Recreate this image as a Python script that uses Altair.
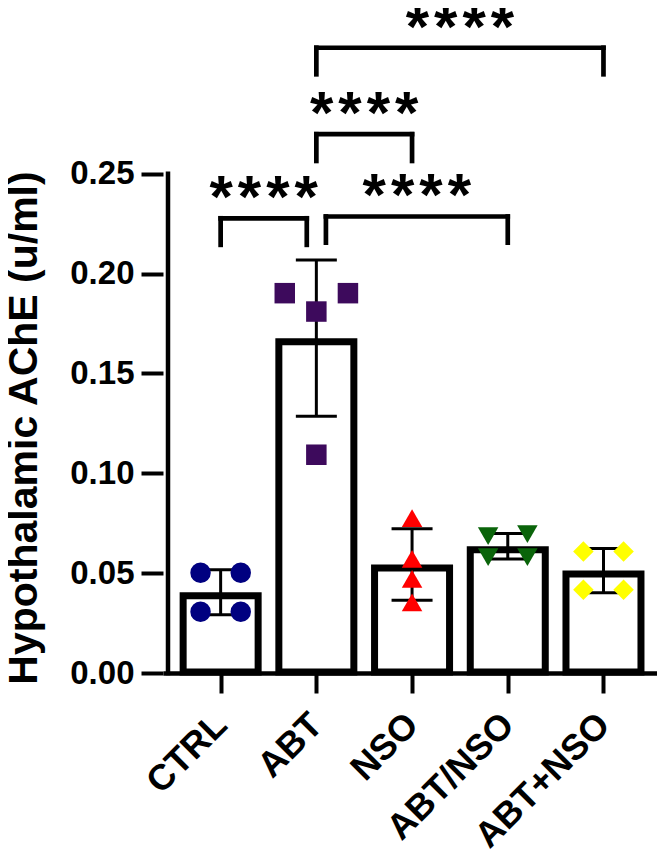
import json
import altair as alt
import pandas as pd

# ---------------- data ----------------
groups = ["CTRL", "ABT", "NSO", "ABT/NSO", "ABT+NSO"]
colors = ["#000080", "#3d0a5c", "#ff0000", "#0a640a", "#ffff00"]
shapes = ["circle", "square", "triangle-up", "triangle-down", "diamond"]

ctrl_values = [0.0502, 0.0502, 0.0307, 0.0307]
abt_values = [0.1902, 0.1810, 0.1902, 0.1093]
nso_values = [0.0776, 0.0571, 0.0471, 0.0354]
abt_slash_nso_values = [0.0685, 0.0695, 0.0580, 0.0580]
abt_plus_nso_values = [0.0609, 0.0609, 0.0417, 0.0417]
group_values = [ctrl_values, abt_values, nso_values,
                abt_slash_nso_values, abt_plus_nso_values]

# column arrangement of the dots inside each bar (-1 left, 0 middle, 1 right)
point_slots = [[-1, 1, -1, 1], [-1, 0, 1, 0], [0, 0, 0, 0],
               [-1, 1, -1, 1], [-1, 1, -1, 1]]

y_ticks = [0.00, 0.05, 0.10, 0.15, 0.20, 0.25]
y_title = "Hypothalamic AChE (u/ml)"

# significance brackets
sig_from = [1, 1, 0, 1]
sig_to = [4, 2, 1, 3]
sig_from_nudge = [0.0, 0.0, 0.0, 0.1]
sig_to_nudge = [0.0, 0.0, -0.1, 0.0]
sig_y = [0.3131, 0.2698, 0.2277, 0.2286]
sig_leg_end = [0.2998, 0.2564, 0.2144, 0.2155]
sig_text = ["*\u200a*\u200a*\u200a*"] * 4

# ---------------- styling ----------------
FONT = "Liberation Sans"
point_spread = [0.21, 0.33, 0.0, 0.205, 0.21]
x_domain = [-0.55, 4.507]
y_domain = [0, 0.333]

rows = []
for gi, (vals, sl) in enumerate(zip(group_values, point_slots)):
    for v, s in zip(vals, sl):
        rows.append({"g": gi, "group": groups[gi], "value": v, "slot": s})
df = pd.DataFrame(rows)

sig_df = pd.DataFrame({
    "a": [f + n for f, n in zip(sig_from, sig_from_nudge)],
    "b": [t + n for t, n in zip(sig_to, sig_to_nudge)],
    "y": sig_y,
    "leg": sig_leg_end,
    "label": sig_text,
})
sig_df["mid"] = (sig_df["a"] + sig_df["b"]) / 2

axis_df = pd.DataFrame({"x": [x_domain[0]], "y0": [0.0], "y1": [max(y_ticks)]})

xs = alt.Scale(domain=x_domain, nice=False, zero=False)
ys = alt.Scale(domain=y_domain, nice=False, zero=False)

x_axis = alt.Axis(
    values=list(range(len(groups))),
    labelExpr=f"{json.dumps(groups)}[datum.value]",
    title="", grid=False, labelAngle=-45, labelFont=FONT,
    labelFontSize=36, labelFontWeight="bold", labelColor="black",
    labelPadding=14, labelOffset=-12, tickSize=20, tickWidth=4,
    tickColor="black", domainWidth=4.5, domainColor="black",
    labelOverlap=False, labelBound=False, labelFlush=False,
)
y_axis = alt.Axis(
    values=y_ticks, format=".2f", grid=False, domain=False,
    labelFont=FONT, labelFontSize=33, labelFontWeight="bold",
    labelColor="black", labelPadding=7, tickSize=22, tickWidth=4,
    tickColor="black", title=y_title, titleFont=FONT, titleFontSize=41,
    titleFontWeight="bold", titleColor="black", titleAngle=270,
    titleX=-127, titleY=419.5, titleAlign="center",
    titleBaseline="alphabetic", labelOverlap=False, labelFlush=False,
)


def X(field):
    return alt.X(field, type="quantitative", scale=xs, axis=x_axis)


def Y(field):
    return alt.Y(field, type="quantitative", scale=ys, axis=y_axis)


base = alt.Chart(df)
stats = base.transform_aggregate(
    mean="mean(value)", sd="stdev(value)", groupby=["g"]
).transform_calculate(lo="datum.mean - datum.sd", hi="datum.mean + datum.sd",
                      zero="0")

bars = stats.mark_bar(
    size=75, fill="white", stroke="black", strokeWidth=7,
    yOffset=3.5, y2Offset=-1, orient="vertical",
).encode(x=X("g"), y=Y("mean"), y2="zero:Q")

err_line = stats.mark_rule(color="black", strokeWidth=3).encode(
    x=X("g"), y=Y("lo"), y2="hi:Q",
)
cap_hi = stats.mark_rule(color="black", strokeWidth=3,
                         xOffset=-20.5, x2Offset=20.5).encode(
    x=X("g"), x2="g:Q", y=Y("hi"),
)
cap_lo = stats.mark_rule(color="black", strokeWidth=3,
                         xOffset=-20.5, x2Offset=20.5).encode(
    x=X("g"), x2="g:Q", y=Y("lo"),
)

points = base.transform_calculate(
    xp=f"datum.g + datum.slot * {json.dumps(point_spread)}[datum.g]"
).mark_point(filled=True, size=420, opacity=1, strokeWidth=0).encode(
    x=X("xp"), y=Y("value"),
    color=alt.Color("group:N", scale=alt.Scale(domain=groups, range=colors), legend=None),
    shape=alt.Shape("group:N", scale=alt.Scale(domain=groups, range=shapes), legend=None),
)

sig = alt.Chart(sig_df)
sig_h = sig.mark_rule(color="black", strokeWidth=4.7, strokeCap="square").encode(
    x=X("a"), x2="b:Q", y=Y("y"),
)
sig_l = sig.mark_rule(color="black", strokeWidth=4.7, strokeCap="square").encode(
    x=X("a"), y=Y("y"), y2="leg:Q",
)
sig_r = sig.mark_rule(color="black", strokeWidth=4.7, strokeCap="square").encode(
    x=X("b"), y=Y("y"), y2="leg:Q",
)
sig_t = sig.mark_text(font=FONT, fontSize=60, fontWeight="bold", color="black",
                      align="center", baseline="alphabetic", dy=-1).encode(
    x=X("mid"), y=Y("y"), text="label:N",
)

y_line = alt.Chart(axis_df).mark_rule(color="black", strokeWidth=4.5,
                                      strokeCap="square").encode(
    x=X("x"), y=Y("y0"), y2="y1:Q",
)

chart = alt.layer(
    bars, err_line, cap_hi, cap_lo, points, sig_h, sig_l, sig_r, sig_t, y_line
).properties(
    width=494, height=665,
    padding={"left": 155, "top": 0, "right": 0, "bottom": 180},
    autosize=alt.AutoSizeParams(type="none"),
    background="white",
).configure_view(stroke=None)

chart.save("out.html", embed_options={"renderer": "svg", "actions": False})
